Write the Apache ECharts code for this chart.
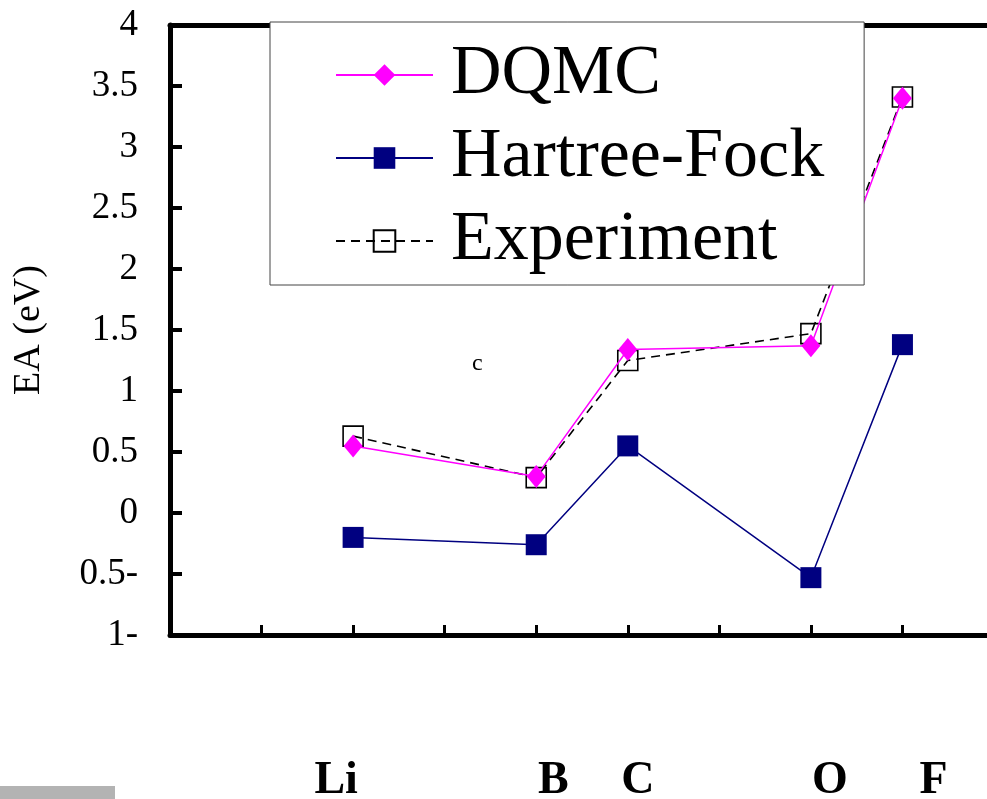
<!DOCTYPE html>
<html>
<head>
<meta charset="utf-8">
<script src="https://cdn.jsdelivr.net/npm/echarts@6/dist/echarts.min.js"></script>
<style>
  html, body { margin: 0; padding: 0; background: #fff; }
  #chart { width: 987px; height: 799px; }
</style>
</head>
<body>
<div id="chart"></div>
<script>
// elements H..Ne, only the measured ones get a label and a value
var elements = ['H', 'He', 'Li', 'Be', 'B', 'C', 'N', 'O', 'F', 'Ne'];
var shownLabels = ['Li', 'B', 'C', 'O', 'F'];

// electron affinity (eV)
var dqmc = [null, null, 0.55, null, 0.30, 1.34, null, 1.37, 3.40, null];
var hartreeFock = [null, null, -0.20, null, -0.26, 0.55, null, -0.53, 1.38, null];
var experiment = [null, null, 0.63, null, 0.29, 1.25, null, 1.47, 3.41, null];

var yTickLabels = ['1-', '0.5-', '0', '0.5', '1', '1.5', '2', '2.5', '3', '3.5', '4'];
var yMin = -1, yMax = 4, yStep = 0.5;

var serif = 'Liberation Serif';

// small horizontal nudges of the element labels under the axis
var labelShift = { Li: -34, B: 34, C: 20, O: 38, F: 62 };

var rich = {};
shownLabels.forEach(function (n) {
    var s = labelShift[n];
    rich[n] = {
        fontFamily: serif, fontSize: 46, fontWeight: 'bold', color: '#000',
        padding: s > 0 ? [0, 0, 0, s] : [0, -s, 0, 0]
    };
});

var myChart = echarts.init(document.getElementById('chart'));
myChart.setOption({
    animation: false,
    grid: { left: 170, top: 25, width: 824, height: 610, outerBoundsMode: 'none', containLabel: false },
    legend: {
        orient: 'vertical',
        left: 270,
        top: 22,
        padding: [18, 40, 9, 65],
        itemGap: 13,
        itemWidth: 97,
        itemHeight: 27,
        backgroundColor: '#fff',
        borderColor: '#444',
        borderWidth: 1,
        textStyle: {
            fontFamily: serif, fontSize: 70, color: '#000', lineHeight: 70,
            padding: [0, 0, 0, 13]
        },
        data: ['DQMC', 'Hartree-Fock', 'Experiment'],
        z: 10
    },
    xAxis: [
        {
            type: 'category',
            data: elements,
            boundaryGap: false,
            axisLine: { onZero: false, lineStyle: { color: '#000', width: 5 } },
            axisTick: { inside: true, length: 10, lineStyle: { color: '#000', width: 3 } },
            axisLabel: {
                interval: 0,
                margin: 123,
                formatter: function (v) {
                    return shownLabels.indexOf(v) >= 0 ? '{' + v + '|' + v + '}' : '';
                },
                rich: rich
            },
            splitLine: { show: false }
        },
        {
            type: 'category',
            data: elements,
            boundaryGap: false,
            position: 'top',
            axisLine: { onZero: false, lineStyle: { color: '#000', width: 5 } },
            axisTick: { show: false },
            axisLabel: { show: false },
            splitLine: { show: false }
        }
    ],
    yAxis: {
        type: 'value',
        min: yMin,
        max: yMax,
        interval: yStep,
        name: 'EA (eV)',
        nameLocation: 'middle',
        nameGap: 122,
        nameTextStyle: { fontFamily: serif, fontSize: 38, color: '#000' },
        axisLine: { show: true, lineStyle: { color: '#000', width: 5 } },
        axisTick: { show: true, inside: true, length: 12, lineStyle: { color: '#000', width: 4 } },
        axisLabel: {
            margin: 32,
            fontFamily: serif,
            fontSize: 37,
            color: '#000',
            formatter: function (v) {
                return yTickLabels[Math.round((v - yMin) / yStep)];
            }
        },
        splitLine: { show: false }
    },
    series: [
        {
            name: 'Experiment',
            type: 'line',
            data: experiment,
            connectNulls: true,
            symbol: 'rect',
            symbolSize: 20,
            itemStyle: { color: 'rgba(255,255,255,0)', borderColor: '#000', borderWidth: 1.6 },
            lineStyle: { color: '#000', width: 1.6, type: [9, 6] },
            z: 2
        },
        {
            name: 'Hartree-Fock',
            type: 'line',
            data: hartreeFock,
            connectNulls: true,
            symbol: 'rect',
            symbolSize: 21,
            itemStyle: { color: '#000080' },
            lineStyle: { color: '#000080', width: 1.5 },
            z: 3
        },
        {
            name: 'DQMC',
            type: 'line',
            data: dqmc,
            connectNulls: true,
            symbol: 'diamond',
            symbolSize: [19, 23],
            itemStyle: { color: '#ff00ff' },
            lineStyle: { color: '#ff00ff', width: 1.5 },
            z: 4
        }
    ],
    graphic: [
        {
            type: 'text',
            left: 472,
            top: 352,
            style: { text: 'c', fontFamily: serif, fontSize: 24, fill: '#000' }
        },
        {
            type: 'rect',
            shape: { x: 0, y: 786, width: 115, height: 13 },
            style: { fill: '#b3b3b3' }
        }
    ]
});
</script>
</body>
</html>
